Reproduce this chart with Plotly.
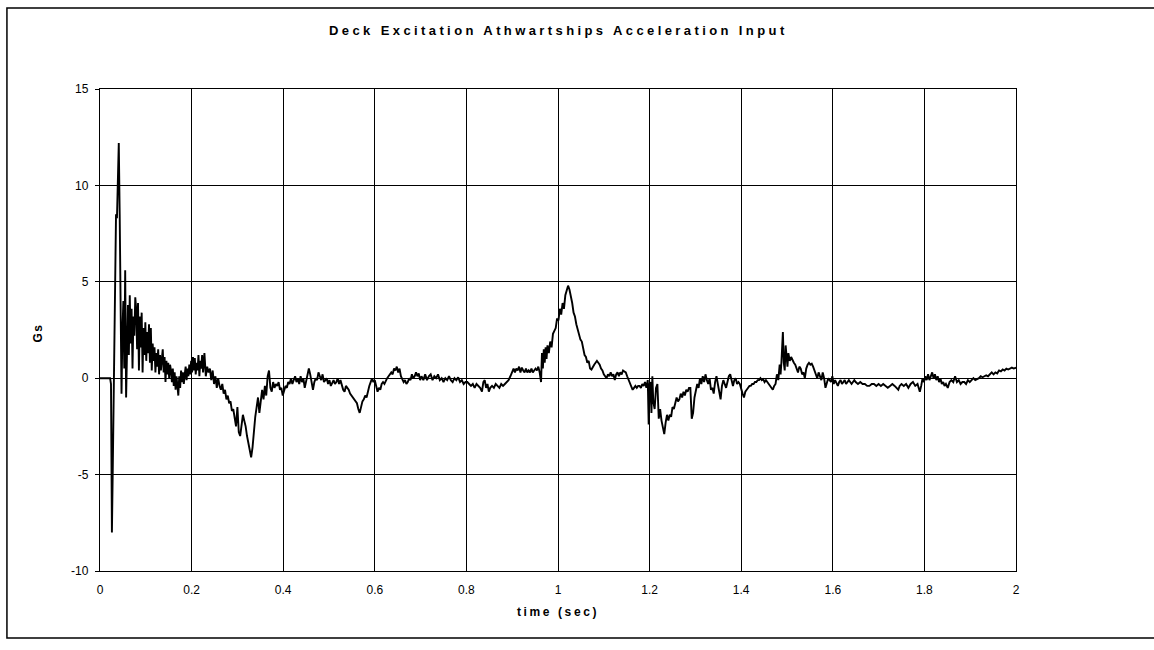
import plotly.graph_objects as go

# Deck excitation, athwartships acceleration (Gs) versus time (sec)
t_shock = [0.000, 0.022, 0.024, 0.026, 0.028, 0.030, 0.033, 0.035, 0.037, 0.039, 0.041, 0.043, 0.045, 0.047,
           0.049, 0.051, 0.053, 0.055, 0.057, 0.059, 0.061, 0.063, 0.065, 0.067, 0.069, 0.071, 0.073, 0.075,
           0.077, 0.079, 0.081, 0.083, 0.085, 0.087, 0.089, 0.091, 0.093, 0.095, 0.097, 0.099, 0.101, 0.103,
           0.105, 0.107, 0.109, 0.111, 0.113, 0.115, 0.117, 0.119, 0.121, 0.123, 0.125, 0.127, 0.129, 0.131,
           0.133, 0.135, 0.137, 0.139, 0.141, 0.143, 0.145, 0.147, 0.149, 0.151, 0.153, 0.155, 0.157, 0.159,
           0.161, 0.163, 0.165, 0.167, 0.169, 0.171, 0.173, 0.175, 0.177, 0.179, 0.181, 0.183, 0.185, 0.187,
           0.189, 0.191, 0.193, 0.195, 0.197, 0.199, 0.201, 0.203, 0.205, 0.207, 0.209, 0.211, 0.213, 0.215,
           0.217, 0.219, 0.221, 0.223, 0.225, 0.228, 0.231, 0.234]
g_shock = [0.0, 0.0, -0.3, -8.0, -4.5, -0.8, 4.0, 8.5, 8.3, 10.0, 12.2, 8.5, 1.5, -0.8,
           2.5, 4.0, 0.5, 5.6, -1.0, 1.5, 3.8, 1.2, 4.3, 1.8, 3.6, 0.5, 3.2, 2.2,
           4.2, 3.6, 1.5, 3.9, 0.4, 3.2, 1.6, 3.4, 0.3, 2.6, 1.2, 2.9, 0.9, 2.4,
           1.3, 2.8, 0.8, 2.6, 0.4, 1.8, 0.9, 1.6, 0.3, 1.3, 0.6, 1.5, 0.2, 1.2,
           0.4, 1.0, 1.5, 0.3, 1.1, -0.2, 0.9, 0.2, 0.8, 0.0, 0.7, 0.4, -0.2, 0.5,
           -0.4, 0.3, -0.6, 0.1, -0.3, -0.9, 0.1, -0.5, 0.4, -0.2, 0.3, -0.3, 0.2, 0.6,
           -0.1, 0.5, 0.1, 0.7, 0.2, 0.9, 0.3, 1.1, 0.4, 1.05, 0.2, 0.8, 0.4, 1.2,
           0.1, 0.9, 0.5, 1.2, 0.3, 1.3, 0.1, 0.6]

t_mid = [0.237, 0.240, 0.243, 0.246, 0.249, 0.252, 0.255, 0.258, 0.261, 0.264, 0.267, 0.270, 0.273, 0.276,
         0.279, 0.282, 0.285, 0.288, 0.291, 0.294, 0.297, 0.300, 0.303, 0.306, 0.309, 0.312, 0.315, 0.318,
         0.321, 0.324, 0.327, 0.330, 0.333, 0.336, 0.339, 0.342, 0.345, 0.348, 0.351, 0.354, 0.357, 0.360,
         0.363, 0.366, 0.369, 0.372, 0.375, 0.378, 0.381, 0.384, 0.387, 0.390, 0.393, 0.396, 0.399, 0.402,
         0.405, 0.408, 0.411, 0.414, 0.417, 0.420, 0.423, 0.426, 0.429, 0.432, 0.435, 0.438, 0.441, 0.444,
         0.447, 0.450, 0.453, 0.456, 0.459, 0.462, 0.465, 0.468, 0.471, 0.474, 0.477, 0.480, 0.483, 0.486,
         0.489, 0.492, 0.495, 0.498, 0.501, 0.504, 0.507, 0.510, 0.513, 0.516, 0.519, 0.522, 0.525, 0.528,
         0.531, 0.534, 0.537, 0.540, 0.543, 0.546, 0.549, 0.552, 0.555, 0.558, 0.561, 0.564, 0.567, 0.570,
         0.573, 0.576, 0.579, 0.582, 0.585, 0.588, 0.591, 0.594, 0.597, 0.600, 0.603, 0.606, 0.609, 0.612,
         0.615, 0.618, 0.621, 0.624, 0.627, 0.630, 0.633, 0.636, 0.639, 0.642, 0.645, 0.648, 0.651, 0.654,
         0.657, 0.660, 0.663, 0.666, 0.669, 0.672, 0.675, 0.678, 0.681, 0.684, 0.687, 0.690, 0.693, 0.696,
         0.699]
g_mid = [0.3, 0.5, -0.1, 0.4, -0.3, 0.1, -0.5, 0.0, -0.4, -0.6, -0.3, -0.8, -0.6, -1.1,
         -0.9, -1.3, -1.2, -1.7, -1.6, -2.2, -2.5, -1.5, -2.8, -3.0, -2.3, -1.9, -2.2, -2.5,
         -3.0, -3.4, -3.8, -4.1, -3.6, -2.6, -2.0, -1.5, -1.0, -1.8, -1.3, -0.6, -1.1, -0.4,
         -0.9, 0.1, 0.4, -0.5, -0.7, -0.2, -0.5, -0.3, -0.4, -0.2, -0.6, -0.5, -0.9, -0.7,
         -0.4, -0.5, -0.2, -0.3, 0.0, -0.3, -0.1, 0.1, -0.2, 0.0, -0.3, 0.1, -0.2, 0.0,
         -0.5, -0.1, 0.2, 0.5, 0.2, -0.3, -0.6, -0.2, 0.0, -0.1, 0.3, 0.1, -0.1, 0.2,
         -0.2, -0.1, 0.0, -0.3, -0.1, -0.4, -0.2, -0.1, -0.3, -0.2, 0.0, -0.3, -0.1, -0.4,
         -0.6, -0.7, -0.4, -0.5, -0.6, -0.8, -0.9, -1.0, -1.1, -1.2, -1.3, -1.6, -1.8, -1.5,
         -1.2, -1.1, -0.9, -1.0, -0.6, -0.4, -0.2, 0.0, -0.2, -0.1, -0.4, -0.7, -0.5, -0.6,
         -0.3, -0.2, -0.3, -0.1, 0.0, 0.1, 0.2, 0.3, 0.2, 0.5, 0.4, 0.6, 0.3, 0.5,
         0.1, -0.1, -0.2, -0.1, -0.3, -0.2, 0.0, -0.1, 0.2, 0.0, 0.1, 0.3, 0.1, 0.25,
         -0.1]

t_pulse = [0.702, 0.706, 0.710, 0.714, 0.718, 0.722, 0.726, 0.730, 0.734, 0.738, 0.742, 0.746, 0.750, 0.754,
           0.758, 0.762, 0.766, 0.770, 0.774, 0.778, 0.782, 0.786, 0.790, 0.794, 0.798, 0.802, 0.806, 0.810,
           0.814, 0.818, 0.822, 0.826, 0.830, 0.834, 0.837, 0.840, 0.843, 0.846, 0.849, 0.852, 0.856, 0.860,
           0.864, 0.868, 0.872, 0.876, 0.880, 0.884, 0.888, 0.892, 0.896, 0.900, 0.903, 0.906, 0.909, 0.912,
           0.915, 0.918, 0.921, 0.924, 0.927, 0.930, 0.933, 0.936, 0.939, 0.942, 0.945, 0.948, 0.951, 0.954,
           0.957, 0.960, 0.963, 0.965, 0.967, 0.969, 0.971, 0.973, 0.975, 0.977, 0.980, 0.983, 0.986, 0.989,
           0.992, 0.995, 0.998, 1.001, 1.004, 1.007, 1.010, 1.013, 1.016, 1.019, 1.022, 1.025, 1.028, 1.031,
           1.034, 1.037, 1.040, 1.043, 1.046, 1.049, 1.052, 1.055, 1.058, 1.061, 1.064, 1.067, 1.070, 1.073,
           1.076, 1.079, 1.082, 1.085, 1.088, 1.091, 1.094, 1.097, 1.100, 1.103, 1.106, 1.109, 1.112, 1.115,
           1.118, 1.121, 1.124, 1.127, 1.130, 1.133, 1.136, 1.139, 1.142, 1.145, 1.148, 1.151, 1.154, 1.157,
           1.160, 1.163, 1.166, 1.169, 1.172, 1.175, 1.178, 1.181, 1.184, 1.187, 1.190, 1.193, 1.196, 1.198,
           1.200, 1.202, 1.204]
g_pulse = [0.1, -0.1, 0.2, -0.1, 0.1, 0.2, -0.1, 0.1, 0.0, 0.2, -0.1, 0.0, -0.2, 0.0,
           -0.1, 0.1, -0.1, -0.2, 0.0, -0.1, 0.05, -0.2, -0.1, -0.3, -0.2, -0.2, -0.3, -0.4,
           -0.3, -0.5, -0.3, -0.4, -0.5, -0.7, -0.2, -0.1, -0.5, -0.3, -0.7, -0.5, -0.4, -0.5,
           -0.3, -0.4, -0.5, -0.3, -0.4, -0.3, -0.2, -0.1, 0.1, 0.3, 0.5, 0.3, 0.5, 0.4,
           0.6, 0.3, 0.55, 0.4, 0.3, 0.5, 0.3, 0.4, 0.3, 0.5, 0.3, 0.4, 0.5, 0.4,
           0.6, 0.3, -0.2, 1.3, 0.5, 1.5, 0.8, 1.6, 1.0, 1.7, 1.3, 1.9, 1.6, 2.3,
           2.5, 2.6, 3.1, 3.0, 3.6, 3.3, 3.9, 3.6, 4.3, 4.5, 4.8, 4.6, 4.3, 3.9,
           3.4, 3.2, 2.8, 2.5, 2.2, 2.0, 1.9, 1.6, 1.2, 1.1, 0.8, 0.9, 0.5, 0.45,
           0.6, 0.7, 0.8, 0.9, 0.8, 0.7, 0.5, 0.4, 0.2, 0.1, 0.0, 0.2, 0.1, 0.3,
           0.1, 0.2, -0.1, 0.2, 0.3, 0.1, 0.3, 0.2, 0.4, 0.35, 0.3, 0.1, -0.1, -0.3,
           -0.5, -0.6, -0.5, -0.4, -0.5, -0.4, -0.4, -0.5, -0.3, -0.4, -0.2, -0.5, -0.1, -2.4,
           -0.3, -0.2, -1.8]

t_late = [1.206, 1.208, 1.211, 1.214, 1.217, 1.220, 1.223, 1.226, 1.229, 1.232, 1.235, 1.238, 1.241, 1.244,
          1.247, 1.250, 1.253, 1.256, 1.259, 1.262, 1.265, 1.268, 1.271, 1.274, 1.277, 1.280, 1.283, 1.286,
          1.289, 1.292, 1.295, 1.298, 1.301, 1.304, 1.307, 1.310, 1.313, 1.316, 1.319, 1.322, 1.325, 1.328,
          1.331, 1.334, 1.337, 1.340, 1.343, 1.346, 1.349, 1.352, 1.355, 1.358, 1.361, 1.364, 1.367, 1.370,
          1.373, 1.376, 1.379, 1.382, 1.385, 1.388, 1.391, 1.394, 1.397, 1.400, 1.403, 1.406, 1.409, 1.412,
          1.415, 1.418, 1.421, 1.424, 1.427, 1.430, 1.433, 1.436, 1.439, 1.442, 1.445, 1.448, 1.451, 1.454,
          1.457, 1.460, 1.463, 1.466, 1.469, 1.472, 1.475, 1.478, 1.481, 1.484, 1.486, 1.488, 1.491, 1.493,
          1.495, 1.497, 1.499, 1.501, 1.503, 1.506, 1.509, 1.512, 1.515, 1.518, 1.521, 1.524, 1.527, 1.530,
          1.533, 1.536, 1.539, 1.542, 1.545, 1.548, 1.551, 1.554, 1.557, 1.560, 1.563, 1.566, 1.569, 1.572,
          1.575, 1.578, 1.581, 1.584, 1.587, 1.590, 1.593, 1.596, 1.599, 1.602, 1.605, 1.608, 1.611, 1.614,
          1.617, 1.620, 1.623, 1.626, 1.629, 1.632, 1.635, 1.638, 1.641, 1.644, 1.647, 1.650]
g_late = [0.1, -1.2, -1.6, -0.5, -0.3, -2.1, -1.6, -2.2, -2.5, -2.9, -2.3, -1.9, -2.2, -1.9,
          -2.0, -1.5, -1.6, -1.2, -1.0, -1.2, -1.1, -0.8, -1.0, -0.7, -0.9, -0.6, -0.7, -0.5,
          -0.5, -2.1, -1.8, -1.0, -0.6, -0.3, -0.5, 0.0, -0.3, 0.1, -0.2, 0.2, -0.1, -0.3,
          0.0, -0.6, -0.5, -0.8, -0.2, 0.1, -0.3, -0.8, -1.1, -0.4, -0.1, -0.3, -0.5, -0.2,
          0.1, 0.2, -0.2, -0.4, -0.1, 0.0, -0.3, -0.2, -0.3, -0.6, -0.8, -1.0, -0.7, -0.6,
          -0.5, -0.4, -0.4, -0.3, -0.3, -0.2, -0.2, -0.1, -0.1, 0.0, -0.1, -0.05, -0.2, -0.1,
          -0.2, -0.3, -0.4, -0.5, -0.6, -0.4, -0.3, 0.2, -0.1, 0.7, 0.2, 0.9, 2.4, 0.8,
          0.4, 1.7, 1.2, 0.6, 1.3, 0.9, 1.1, 0.9, 0.8, 0.7, 0.5, 0.3, 0.6, 0.5,
          0.2, 0.3, 0.0, 0.5, 0.7, 0.8, 0.7, 0.75, 0.6, 0.4, 0.2, 0.0, 0.3, 0.1,
          -0.1, 0.3, 0.0, -0.5, -0.2, 0.0, -0.1, -0.2, 0.1, -0.3, -0.1, -0.3, -0.4, -0.2,
          -0.1, -0.3, -0.2, -0.1, -0.3, -0.2, -0.1, -0.2, -0.3, -0.2, -0.1, -0.2]

t_tail = [1.655, 1.660, 1.665, 1.670, 1.675, 1.680, 1.685, 1.690, 1.695, 1.700, 1.705, 1.710, 1.715, 1.720,
          1.725, 1.730, 1.735, 1.740, 1.743, 1.746, 1.750, 1.755, 1.760, 1.765, 1.770, 1.775, 1.780, 1.785,
          1.790, 1.793, 1.796, 1.799, 1.802, 1.805, 1.808, 1.811, 1.814, 1.817, 1.820, 1.823, 1.826, 1.829,
          1.832, 1.835, 1.838, 1.841, 1.844, 1.847, 1.851, 1.855, 1.859, 1.863, 1.867, 1.871, 1.875, 1.879,
          1.883, 1.887, 1.891, 1.895, 1.899, 1.903, 1.907, 1.911, 1.915, 1.919, 1.923, 1.927, 1.931, 1.935,
          1.939, 1.943, 1.947, 1.951, 1.955, 1.959, 1.963, 1.967, 1.971, 1.975, 1.979, 1.983, 1.987, 1.991,
          1.995, 2.000]
g_tail = [-0.3, -0.2, -0.3, -0.3, -0.4, -0.4, -0.3, -0.3, -0.4, -0.3, -0.4, -0.3, -0.4, -0.5,
          -0.4, -0.3, -0.4, -0.5, -0.6, -0.4, -0.3, -0.4, -0.3, -0.5, -0.3, -0.2, -0.4, -0.3,
          -0.7, -0.4, 0.0, -0.2, 0.1, -0.1, 0.2, -0.1, 0.1, 0.3, 0.0, 0.2, -0.1, 0.1,
          -0.2, 0.0, -0.3, -0.2, -0.4, -0.3, -0.5, -0.2, -0.1, -0.2, 0.1, -0.2, -0.1, -0.3,
          -0.2, -0.2, -0.3, -0.1, -0.2, -0.1, 0.0, -0.1, -0.05, 0.0, 0.1, 0.05, 0.1, 0.15,
          0.1, 0.2, 0.3, 0.2, 0.3, 0.25, 0.4, 0.35, 0.45, 0.4, 0.5, 0.45, 0.5, 0.55,
          0.5, 0.55]

time_s = t_shock + t_mid + t_pulse + t_late + t_tail
accel_g = g_shock + g_mid + g_pulse + g_late + g_tail

x_ticks = [0, 0.2, 0.4, 0.6, 0.8, 1, 1.2, 1.4, 1.6, 1.8, 2]
x_tick_text = ["0", "0.2", "0.4", "0.6", "0.8", "1", "1.2", "1.4", "1.6", "1.8", "2"]
y_ticks = [-10, -5, 0, 5, 10, 15]
y_tick_text = ["-10", "-5", "0", "5", "10", "15"]

FONT = "Liberation Sans, Arial, sans-serif"

fig = go.Figure()
fig.add_trace(go.Scatter(
    x=time_s, y=accel_g, mode="lines",
    line=dict(color="black", width=1.9),
    showlegend=False, hoverinfo="skip",
))

axis_common = dict(
    showline=True, linecolor="black", linewidth=1.3, mirror=True,
    showgrid=True, gridcolor="black", gridwidth=1,
    zeroline=False,
    tickfont=dict(family=FONT, size=12, color="black"),
)

fig.update_xaxes(
    range=[0, 2], tickmode="array", tickvals=x_ticks, ticktext=x_tick_text,
    ticks="", ticklabelstandoff=7, **axis_common,
)
fig.update_yaxes(
    range=[-10, 15], tickmode="array", tickvals=y_ticks, ticktext=y_tick_text,
    ticks="outside", ticklen=4, tickcolor="black", ticklabelstandoff=4, **axis_common,
)

fig.update_layout(
    width=1154, height=650,
    margin=dict(l=100, r=138, t=89, b=79),
    paper_bgcolor="white", plot_bgcolor="white",
    font=dict(family=FONT, color="black"),
    annotations=[
        dict(text='<span style="letter-spacing:3.4px"><b>Deck Excitation Athwartships Acceleration Input</b></span>',
             xref="paper", yref="paper", x=0.5, y=1.122, xanchor="center", yanchor="middle",
             showarrow=False, font=dict(family=FONT, size=13, color="black")),
        dict(text='<span style="letter-spacing:2.6px"><b>time (sec)</b></span>',
             xref="paper", yref="paper", x=0.5, y=-0.085, xanchor="center", yanchor="middle",
             showarrow=False, font=dict(family=FONT, size=12, color="black")),
        dict(text='<span style="letter-spacing:1.5px"><b>Gs</b></span>',
             xref="paper", yref="paper", x=-0.068, y=0.494, xanchor="center", yanchor="middle",
             textangle=-90, showarrow=False, font=dict(family=FONT, size=12, color="black")),
    ],
    shapes=[
        dict(type="rect", xref="paper", yref="paper",
             x0=-0.1016, x1=1.2, y0=-0.139, y1=1.168,
             line=dict(color="black", width=1.5), fillcolor="rgba(0,0,0,0)", layer="below"),
    ],
)

fig.write_html("out.html")
